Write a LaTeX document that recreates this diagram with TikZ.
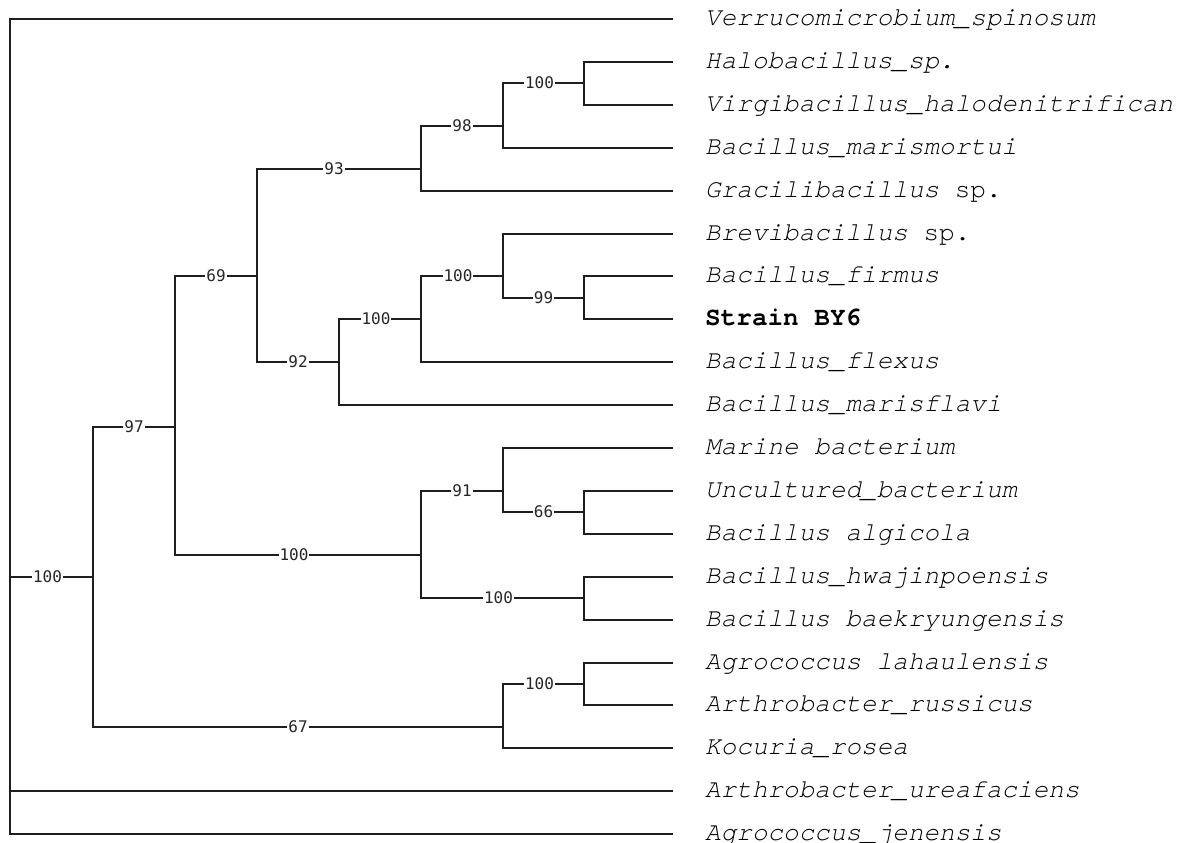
\documentclass[tikz,border=0pt]{standalone}
\usepackage{fontspec}
\newfontfamily\leaffont[Ligatures={NoCommon,NoRequired,NoContextual}]{TeX Gyre Cursor}
\newfontfamily\supfont{DejaVu Sans Mono}
\begin{document}
\begin{tikzpicture}[x=1pt,y=-1pt,
  branch/.style={line width=2pt,draw=black!88},
  sup/.style={fill=white,inner sep=1pt,font=\supfont\fontsize{16}{16}\selectfont,text=black!85},
  supc/.style={sup,xshift=-4pt},
  leaf/.style={anchor=base west,yshift=-6.5pt,inner sep=0pt,font=\leaffont\fontsize{26}{30}\selectfont\itshape}]
\useasboundingbox (0,0) rectangle (1183,843);
% internal nodes
\coordinate (R) at (10,577);
\coordinate (A) at (93,577);
\coordinate (B) at (175,427);
\coordinate (D) at (257,276);
\coordinate (E) at (421,169);
\coordinate (F) at (503,126);
\coordinate (G) at (584,83);
\coordinate (H) at (339,362);
\coordinate (I) at (421,319);
\coordinate (J) at (503,276);
\coordinate (K) at (584,298);
\coordinate (L) at (421,555);
\coordinate (M) at (503,491);
\coordinate (N) at (584,512);
\coordinate (O) at (584,598);
\coordinate (P) at (503,727);
\coordinate (Q) at (584,684);
% leaves
\foreach \k/\y in {1/19,2/62,3/105,4/148,5/191,6/234,7/276,8/319,9/362,10/405,11/448,12/491,13/534,14/577,15/620,16/663,17/705,18/748,19/791,20/834}
  { \coordinate (l\k) at (673,\y); }
% edges
\draw[branch] (R) |- (l1);
\draw[branch] (R) |- (l19);
\draw[branch] (R) |- (l20);
\draw[branch] (R) |- (A) node[supc,pos=0.75] (sR) {100};
\draw[branch] (A) |- (B) node[sup,pos=0.75] (sA) {97};
\draw[branch] (A) |- (P) node[sup,pos=0.75] (sP) {67};
\draw[branch] (B) |- (D) node[sup,pos=0.75] (sD) {69};
\draw[branch] (B) |- (L) node[supc,pos=0.75] (sL) {100};
\draw[branch] (D) |- (E) node[sup,pos=0.75,xshift=-5pt] (sE) {93};
\draw[branch] (D) |- (H) node[sup,pos=0.75] (sH) {92};
\draw[branch] (E) |- (F) node[sup,pos=0.75] (sF) {98};
\draw[branch] (E) |- (l5);
\draw[branch] (F) |- (G) node[supc,pos=0.75] (sG) {100};
\draw[branch] (F) |- (l4);
\draw[branch] (G) |- (l2);
\draw[branch] (G) |- (l3);
\draw[branch] (H) |- (I) node[supc,pos=0.75] (sI) {100};
\draw[branch] (H) |- (l10);
\draw[branch] (I) |- (J) node[supc,pos=0.75] (sJ) {100};
\draw[branch] (I) |- (l9);
\draw[branch] (J) |- (l6);
\draw[branch] (J) |- (K) node[sup,pos=0.75] (sK) {99};
\draw[branch] (K) |- (l7);
\draw[branch] (K) |- (l8);
\draw[branch] (L) |- (M) node[sup,pos=0.75] (sM) {91};
\draw[branch] (L) |- (O) node[supc,pos=0.75] (sO) {100};
\draw[branch] (M) |- (l11);
\draw[branch] (M) |- (N) node[sup,pos=0.75] (sN) {66};
\draw[branch] (N) |- (l12);
\draw[branch] (N) |- (l13);
\draw[branch] (O) |- (l14);
\draw[branch] (O) |- (l15);
\draw[branch] (P) |- (Q) node[supc,pos=0.75] (sQ) {100};
\draw[branch] (P) |- (l18);
\draw[branch] (Q) |- (l16);
\draw[branch] (Q) |- (l17);
% leaf labels
\node[leaf] (n1) at (705,19) {Verrucomicrobium\_spinosum};
\node[leaf] (n2) at (705,62) {Halobacillus\_sp.};
\node[leaf] (n3) at (705,105) {Virgibacillus\_halodenitrifican};
\node[leaf] (n4) at (705,148) {Bacillus\_marismortui};
\node[leaf] (n5) at (705,191) {Gracilibacillus\upshape{} sp.};
\node[leaf] (n6) at (705,234) {Brevibacillus\upshape{} sp.};
\node[leaf] (n7) at (705,276) {Bacillus\_firmus};
\node[leaf] (n8) at (705,319) {\upshape\bfseries Strain BY6};
\node[leaf] (n9) at (705,362) {Bacillus\_flexus};
\node[leaf] (n10) at (705,405) {Bacillus\_marisflavi};
\node[leaf] (n11) at (705,448) {Marine bacterium};
\node[leaf] (n12) at (705,491) {Uncultured\_bacterium};
\node[leaf] (n13) at (705,534) {Bacillus algicola};
\node[leaf] (n14) at (705,577) {Bacillus\_hwajinpoensis};
\node[leaf] (n15) at (705,620) {Bacillus baekryungensis};
\node[leaf] (n16) at (705,663) {Agrococcus lahaulensis};
\node[leaf] (n17) at (705,705) {Arthrobacter\_russicus};
\node[leaf] (n18) at (705,748) {Kocuria\_rosea};
\node[leaf] (n19) at (705,791) {Arthrobacter\_ureafaciens};
\node[leaf] (n20) at (705,834) {Agrococcus\_jenensis};
\end{tikzpicture}
\end{document}
